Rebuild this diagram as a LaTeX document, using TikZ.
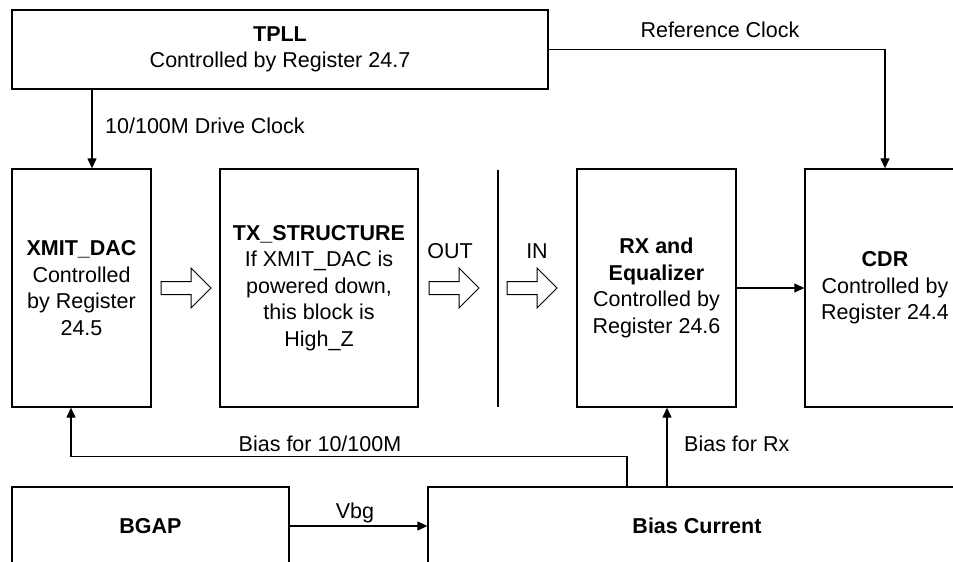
\documentclass[tikz,border=0pt]{standalone}
\usepackage{fontspec}
\setmainfont{Liberation Sans}
\usetikzlibrary{arrows.meta,calc}
\begin{document}
\begin{tikzpicture}[x=1pt,y=-1pt,
  every node/.style={font=\fontsize{21.5}{26.5}\selectfont},
  box/.style={draw,line width=1.3pt,rectangle,inner sep=0pt,align=center},
  lbl/.style={inner sep=0pt,anchor=base},
  conn/.style={line width=1.2pt},
  arr/.style={conn,-{Triangle[length=10pt,width=9pt]}},
  hollow/.pic={\draw[line width=1pt,fill=white] (0,-6.5) -- (30,-6.5) -- (30,-20) -- (50,0) -- (30,20) -- (30,6.5) -- (0,6.5) -- cycle;}
]
\useasboundingbox (0,0) rectangle (953,562);
\clip (0,0) rectangle (953,562);

\node[box,minimum width=536pt,minimum height=79pt] (tpll) at (280,49.5) {\textbf{TPLL}\\Controlled by Register 24.7};
\node[box,minimum width=139pt,minimum height=238pt] (xmit) at (81.5,288) {\textbf{XMIT\_DAC}\\Controlled\\by Register\\24.5};
\node[box,minimum width=198pt,minimum height=238pt] (tx) at (319,288) {\textbf{TX\_STRUCTURE}\\If XMIT\_DAC is\\powered down,\\this block is\\High\_Z};
\node[box,minimum width=159pt,minimum height=238pt] (rx) at (656.5,288) {\textbf{RX and}\\\textbf{Equalizer}\\Controlled by\\Register 24.6};
\node[box,minimum width=160pt,minimum height=238pt] (cdr) at (885,288) {\textbf{CDR}\\Controlled by\\Register 24.4};
\node[box,minimum width=277pt,minimum height=78pt] (bgap) at (150.5,526) {\textbf{BGAP}};
\node[box,minimum width=538pt,minimum height=78pt] (bias) at (697,526) {\textbf{Bias Current}};

\coordinate (septop) at (498,170);
\coordinate (sepbot) at (498,407);
\draw[conn] (septop) -- (sepbot);

\pic at (161,288) {hollow};
\pic at (429,288) {hollow};
\pic at (507,288) {hollow};

\draw[arr] ([xshift=10.5pt]xmit.north |- tpll.south) -- ([xshift=10.5pt]xmit.north);
\draw[arr] (tpll.east) -| (cdr.north);
\draw[arr] (rx.east) -- (cdr.west);
\draw[arr] (bgap.east) -- (bias.west);
\draw[arr] ([xshift=-70pt]bias.north) -- ++(0,-30) -| ([xshift=-10.5pt]xmit.south);
\draw[arr] ([xshift=-30pt]bias.north) -- ([xshift=10.5pt]rx.south);

\node[lbl,anchor=base west] (ldrive) at (105,133) {10/100M Drive Clock};
\node[lbl] (lref) at (720,37) {Reference Clock};
\node[lbl] (lout) at (450,258) {OUT};
\node[lbl] (lin) at (537,258) {IN};
\node[lbl] (lbias) at (320,451) {Bias for 10/100M};
\node[lbl,anchor=base west] (lbrx) at (684,451) {Bias for Rx};
\node[lbl] (lvbg) at (355,518) {Vbg};
\end{tikzpicture}
\end{document}
